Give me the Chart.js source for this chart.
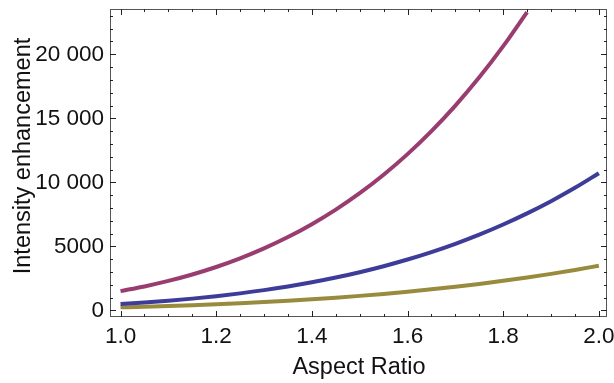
<!DOCTYPE html>
<html>
<head>
<meta charset="utf-8">
<script src="https://cdn.jsdelivr.net/npm/chart.js@4"></script>
<style>
  body { margin: 0; background: #fff; }
  #wrap { width: 614px; height: 383px; }
</style>
</head>
<body>
<div id="wrap"><canvas id="can"></canvas></div>
<script>
// aspect ratio values (x axis)
const aspect = [1.0, 1.05, 1.1, 1.15, 1.2, 1.25, 1.3, 1.35, 1.4, 1.45, 1.5,
                1.55, 1.6, 1.65, 1.7, 1.75, 1.8, 1.85, 1.9, 1.95, 2.0];

const blueVals = [490, 609, 749, 913, 1103, 1323, 1575, 1863, 2190, 2560, 2977,
                  3445, 3968, 4550, 5196, 5912, 6702, 7571, 8525, 9569, 10710];
const magentaVals = [1500, 1865, 2295, 2798, 3383, 4058, 4834, 5720, 6727, 7868, 9151,
                     10592, 12203, 13999, 15993, 18198, 20636, 23300];
const oliveVals = [230, 278, 334, 398, 470, 552, 643, 746, 860, 987, 1127,
                   1282, 1452, 1638, 1841, 2063, 2304, 2565, 2847, 3153, 3482];

// tick labels
const xTicks = [1.0, 1.2, 1.4, 1.6, 1.8, 2.0];
const xTickLabels = ["1.0", "1.2", "1.4", "1.6", "1.8", "2.0"];
const yTicks = [0, 5000, 10000, 15000, 20000];
const yTickLabels = ["0", "5000", "10 000", "15 000", "20 000"];

const toPts = vals => vals.map((v, i) => ({ x: aspect[i], y: v }));

// frame, ticks and labels drawn Mathematica style
const framePlugin = {
  id: "frame",
  afterDraw(chart) {
    const ctx = chart.ctx;
    const a = chart.chartArea;
    const xs = chart.scales.x, ys = chart.scales.y;
    ctx.save();
    ctx.strokeStyle = "#555";
    ctx.lineWidth = 1;
    ctx.strokeRect(a.left + 0.5, a.top + 0.5, a.right - a.left - 1, a.bottom - a.top - 1);

    ctx.strokeStyle = "#222";
    ctx.beginPath();
    for (let v = 1.0; v <= 2.0001; v += 0.05) {
      const px = Math.round(xs.getPixelForValue(v)) + 0.5;
      const major = Math.abs(v * 5 - Math.round(v * 5)) < 1e-6;
      const len = major ? 6 : 3;
      ctx.moveTo(px, a.bottom); ctx.lineTo(px, a.bottom - len);
      ctx.moveTo(px, a.top); ctx.lineTo(px, a.top + len);
    }
    for (let v = 0; v <= 23000; v += 1000) {
      const py = Math.round(ys.getPixelForValue(v)) + 0.5;
      const len = v % 5000 === 0 ? 6 : 3;
      ctx.moveTo(a.left, py); ctx.lineTo(a.left + len, py);
      ctx.moveTo(a.right, py); ctx.lineTo(a.right - len, py);
    }
    ctx.stroke();

    ctx.fillStyle = "#111";
    ctx.font = "22.5px 'Liberation Sans', Arial, sans-serif";
    ctx.textAlign = "center";
    ctx.textBaseline = "middle";
    xTicks.forEach((v, i) => ctx.fillText(xTickLabels[i], xs.getPixelForValue(v), 337));
    ctx.textAlign = "right";
    yTicks.forEach((v, i) => ctx.fillText(yTickLabels[i], 104, ys.getPixelForValue(v)));

    ctx.font = "23.5px 'Liberation Sans', Arial, sans-serif";
    ctx.textAlign = "center";
    ctx.fillText("Aspect Ratio", 359, 368);
    ctx.translate(24, 156);
    ctx.rotate(-Math.PI / 2);
    ctx.fillText("Intensity enhancement", 0, 0);
    ctx.restore();
  }
};

const chart = new Chart(document.getElementById("can"), {
  type: "line",
  data: {
    datasets: [
      { label: "a", data: toPts(blueVals), borderColor: "#3d3d99" },
      { label: "b", data: toPts(magentaVals), borderColor: "#993d71" },
      { label: "c", data: toPts(oliveVals), borderColor: "#998b3d" }
    ]
  },
  options: {
    responsive: true,
    maintainAspectRatio: false,
    animation: false,
    layout: { padding: { left: 110, right: 7, top: 9, bottom: 66 } },
    elements: {
      point: { radius: 0 },
      line: { borderWidth: 4, cubicInterpolationMode: "monotone", fill: false }
    },
    plugins: { legend: { display: false }, tooltip: { enabled: false } },
    scales: {
      x: { type: "linear", min: 0.978, max: 2.017, display: false },
      y: { type: "linear", min: -523, max: 23539, display: false }
    }
  },
  plugins: [framePlugin]
});
</script>
</body>
</html>
